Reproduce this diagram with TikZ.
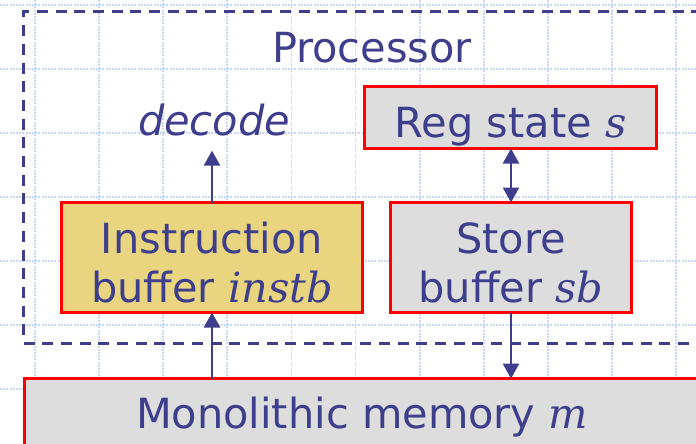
\documentclass[tikz,border=0pt]{standalone}
\usepackage{fontspec}
\newfontfamily\dvsans{DejaVu Sans}
\newfontfamily\dvserif{DejaVu Serif}
\usetikzlibrary{arrows.meta}
\definecolor{ink}{RGB}{62,62,140}
\definecolor{gridblue}{RGB}{200,214,248}
\definecolor{boxgray}{RGB}{221,221,221}
\definecolor{boxgold}{RGB}{233,213,128}
\definecolor{edgered}{RGB}{255,0,0}
% variable names in serif italic
\newcommand{\vname}[1]{{\dvserif\itshape #1}}

\begin{document}
\begin{tikzpicture}[x=1pt,y=-1pt,
  every node/.style={inner sep=0pt, outer sep=0pt},
  gridline/.style={gridblue, line width=1.8pt, dash pattern=on 2pt off 1.2pt},
  unitbox/.style={draw=edgered, line width=3pt, rectangle},
  txt/.style={text=ink, font=\dvsans\fontsize{41.5}{41.5}\selectfont, anchor=base},
  arr/.style={ink, line width=2.4pt, -{Triangle[length=15pt,width=16pt]}},
  dblarr/.style={ink, line width=2.4pt, {Triangle[length=15pt,width=16pt]}-{Triangle[length=15pt,width=16pt]}}
]
\clip (0,0) rectangle (696,444);

% background grid
\foreach \k in {0,...,10}
  \draw[gridline] (35+64.1*\k,0) -- (35+64.1*\k,444);
\foreach \k in {0,...,6}
  \draw[gridline] (0,5+64*\k) -- (696,5+64*\k);

% processor boundary
\node[draw=ink, line width=3pt, dash pattern=on 11pt off 7.7pt,
      rectangle, minimum width=697.5pt, minimum height=331pt] (proc) at (372.25,177.5) {};

% units
\node[unitbox, fill=boxgray, minimum width=292pt, minimum height=62pt] (reg) at (510.5,117.5) {};
\node[unitbox, fill=boxgold, minimum width=301pt, minimum height=110pt] (ib) at (212,257.5) {};
\node[unitbox, fill=boxgray, minimum width=241pt, minimum height=110pt] (sb) at (511,257.5) {};
\node[unitbox, fill=boxgray, minimum width=685pt, minimum height=91pt] (mem) at (367.1,424.1) {};

% labels
\node[txt] (proct) at (372,63) {Processor};
\node[txt, font=\dvsans\itshape\fontsize{41.5}{41.5}\selectfont] (dec) at (214,135) {decode};
\node[txt] (regt) at (510.5,137) {Reg state \vname{s}};
\node[txt] (ibone) at (212,253) {Instruction};
\node[txt] (ibtwo) at (212,302) {buffer \vname{instb}};
\node[txt] (sbone) at (511,253) {Store};
\node[txt] (sbtwo) at (511,302) {buffer \vname{sb}};
\node[txt] (memt) at (362,428) {Monolithic memory \vname{m}};

% connectors
\draw[arr] (ib.north) -- ([yshift=-15pt]ib.north |- dec.south);
\draw[dblarr] (sb.north |- reg.south) -- (sb.north);
\draw[arr] (ib.south |- mem.north) -- (ib.south);
\draw[arr] (sb.south) -- (sb.south |- mem.north);
\end{tikzpicture}
\end{document}
